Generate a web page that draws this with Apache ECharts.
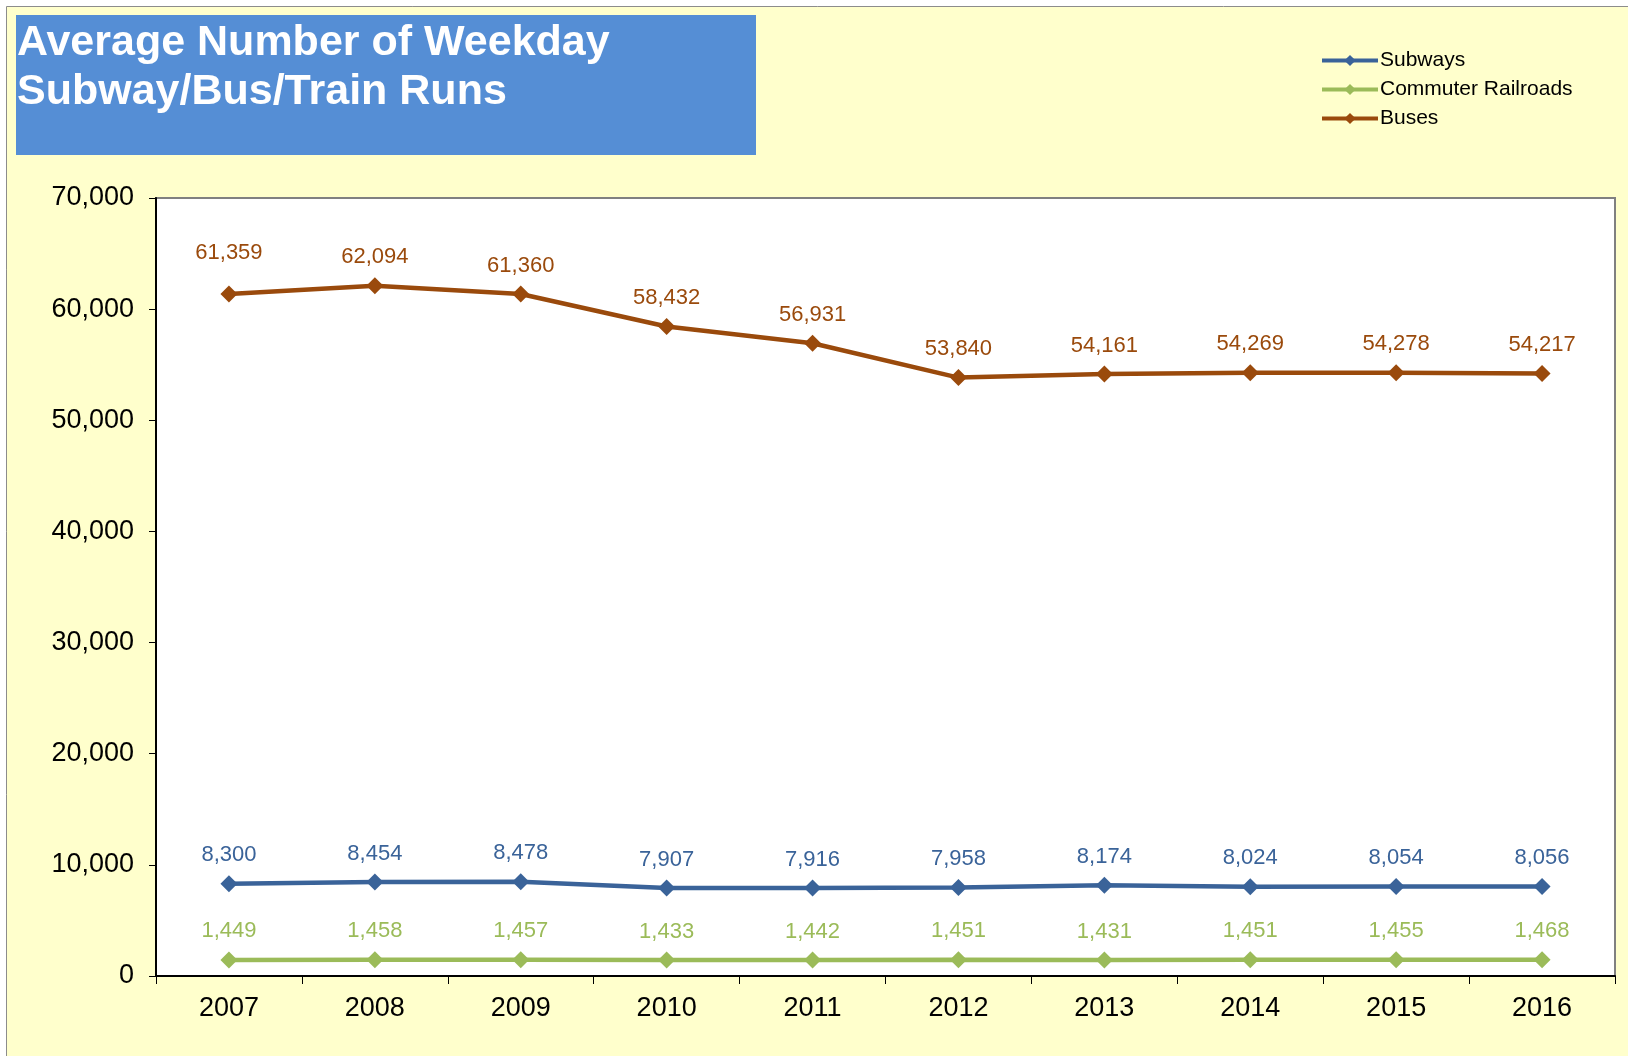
<!DOCTYPE html>
<html>
<head>
<meta charset="utf-8">
<script src="https://cdn.jsdelivr.net/npm/echarts@6/dist/echarts.min.js"></script>
<style>
  html, body { margin: 0; padding: 0; background: #fff; }
  #chart { width: 1628px; height: 1056px; }
</style>
</head>
<body>
<div id="chart"></div>
<script>
// data
const years = ['2007', '2008', '2009', '2010', '2011', '2012', '2013', '2014', '2015', '2016'];
const subways = [8300, 8454, 8478, 7907, 7916, 7958, 8174, 8024, 8054, 8056];
const commuterRailroads = [1449, 1458, 1457, 1433, 1442, 1451, 1431, 1451, 1455, 1468];
const buses = [61359, 62094, 61360, 58432, 56931, 53840, 54161, 54269, 54278, 54217];
const titleLines = ['Average Number of Weekday', 'Subway/Bus/Train Runs'];

const FONT = '"Liberation Sans", Arial, sans-serif';

function makeSeries(name, values, color, extraFirst) {
  return {
    name: name,
    type: 'line',
    data: values.map(function (v, i) {
      // first bus label sits a bit higher in the original
      if (extraFirst && i === 0) return { value: v, label: { distance: 22 } };
      return v;
    }),
    symbol: 'diamond',
    symbolSize: 17,
    lineStyle: { width: 4.5, color: color },
    itemStyle: { color: color },
    label: {
      show: true,
      position: 'top',
      distance: 9,
      color: color,
      fontFamily: FONT,
      fontSize: 22,
      formatter: function (p) { return p.value.toLocaleString('en-US'); }
    }
  };
}

const chart = echarts.init(document.getElementById('chart'));
chart.setOption({
  backgroundColor: '#ffffff',
  animation: false,
  graphic: [
    {
      type: 'rect', z: -10,
      shape: { x: 6.5, y: 6.5, width: 1700, height: 1100 },
      style: { fill: '#FFFFCC', stroke: '#8c8c8c', lineWidth: 1 }
    },
    {
      type: 'rect', z: -5,
      shape: { x: 16, y: 15, width: 740, height: 140 },
      style: { fill: '#558ED5' }
    }
  ],
  title: {
    text: titleLines.join('\n'),
    left: 17,
    top: 19,
    padding: 0,
    textStyle: {
      color: '#ffffff',
      fontFamily: FONT,
      fontWeight: 'bold',
      fontSize: 43,
      lineHeight: 49
    }
  },
  legend: {
    orient: 'vertical',
    left: 1315,
    top: 45,
    itemWidth: 56,
    itemHeight: 14,
    itemGap: 8,
    lineStyle: { width: 4 },
    textStyle: { fontFamily: FONT, fontSize: 21, color: '#000', lineHeight: 21, padding: [0, 0, 0, -3] },
    data: ['Subways', 'Commuter Railroads', 'Buses']
  },
  grid: {
    left: 156,
    top: 198,
    right: 13,
    bottom: 80,
    show: true,
    backgroundColor: '#ffffff',
    borderColor: '#808080',
    borderWidth: 2
  },
  xAxis: {
    type: 'category',
    data: years,
    boundaryGap: true,
    axisLine: { lineStyle: { color: '#000', width: 2 } },
    axisTick: { show: true, length: 8, lineStyle: { color: '#000', width: 1 } },
    axisLabel: { fontFamily: FONT, fontSize: 27, color: '#000', margin: 19 }
  },
  yAxis: {
    type: 'value',
    min: 0,
    max: 70000,
    interval: 10000,
    splitLine: { show: false },
    axisLine: { show: true, lineStyle: { color: '#000', width: 2 } },
    axisTick: { show: true, length: 7, lineStyle: { color: '#000', width: 1 } },
    axisLabel: {
      fontFamily: FONT, fontSize: 27, color: '#000', margin: 22,
      formatter: function (v) { return v.toLocaleString('en-US'); }
    }
  },
  series: [
    makeSeries('Subways', subways, '#3A6399', false),
    makeSeries('Commuter Railroads', commuterRailroads, '#9BBB59', false),
    makeSeries('Buses', buses, '#9A4A0C', true)
  ]
});
</script>
</body>
</html>
